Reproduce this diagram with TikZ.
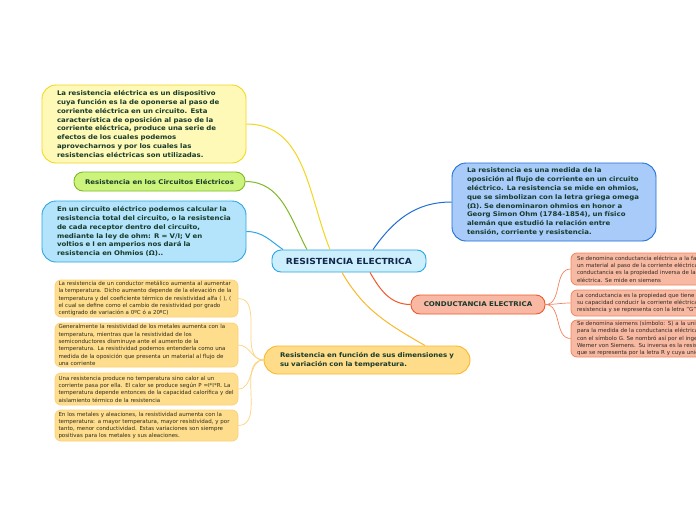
\documentclass[tikz,border=0pt]{standalone}
\usepackage{fontspec}
\setmainfont{DejaVu Sans}
\newfontfamily\widefont{DejaVu Sans}[FakeStretch=1.09]
\definecolor{txt}{HTML}{163A2A}
\definecolor{navy}{HTML}{12284A}
\definecolor{smalltxt}{HTML}{2E2A20}
\definecolor{yelfill}{HTML}{FFF9B8}
\definecolor{yelline}{HTML}{F2D620}
\definecolor{grnfill}{HTML}{CCF47C}
\definecolor{grnline}{HTML}{80B928}
\definecolor{lbfill}{HTML}{B4E4FB}
\definecolor{lbline}{HTML}{2AA6E6}
\definecolor{cfill}{HTML}{CDEEFC}
\definecolor{dbfill}{HTML}{A8CBFA}
\definecolor{dbline}{HTML}{1D6FD6}
\definecolor{rfill}{HTML}{F9B8A4}
\definecolor{rline}{HTML}{F0592A}
\definecolor{ofill}{HTML}{FEDC8A}
\definecolor{oline}{HTML}{FBB829}
\definecolor{sofill}{HTML}{FEDD8C}
\definecolor{soline}{HTML}{FCD27B}
\definecolor{srfill}{HTML}{F8B9A3}
\definecolor{srline}{HTML}{F3825E}
\begin{document}
\begin{tikzpicture}[x=1pt,y=-1pt,
  bignode/.style={draw, line width=0.9pt, rounded corners=14pt, text=txt, align=left,
    font=\widefont\fontsize{6.4}{8.8}\selectfont\bfseries, inner ysep=0pt, inner xsep=15pt, text width=174pt},
  pillnode/.style={draw, line width=0.9pt, rounded corners=9pt, text=txt, align=center,
    font=\widefont\fontsize{6.4}{8.8}\selectfont\bfseries, inner sep=0pt},
  smallL/.style={draw=soline, fill=sofill, line width=0.8pt, rounded corners=6pt, text=smalltxt,
    align=left, font=\fontsize{5.5}{7.3}\selectfont, inner ysep=0pt, inner xsep=3.5pt, text width=176pt},
  smallR/.style={draw=srline, fill=srfill, line width=0.8pt, rounded corners=6pt, text=smalltxt,
    align=left, font=\fontsize{5.5}{7.3}\selectfont, inner ysep=0pt, inner xsep=6pt, text width=200pt},
  link/.style={line width=1pt},
  thinlink/.style={line width=0.7pt}
]
\clip (0,0) rectangle (696,520);
\fill[white] (0,0) rectangle (696,520);

\node[pillnode, draw=lbline, fill=cfill, text=navy, minimum width=154pt, minimum height=22pt,
  font=\widefont\fontsize{8.4}{9}\selectfont\bfseries] (c) at (349,261) {RESISTENCIA ELECTRICA};

\node[bignode, draw=yelline, fill=yelfill, minimum height=78pt] (n1) at (144,124)
{La resistencia eléctrica es un dispositivo\\
cuya función es la de oponerse al paso de\\
corriente eléctrica en un circuito. Esta\\
característica de oposición al paso de la\\
corriente eléctrica, produce una serie de\\
efectos de los cuales podemos\\
aprovecharnos y por los cuales las\\
resistencias eléctricas son utilizadas.};

\node[pillnode, draw=grnline, fill=grnfill, minimum width=171pt, minimum height=19pt] (n2) at (159.5,181.5)
{Resistencia en los Circuitos Eléctricos};

\node[bignode, draw=lbline, fill=lbfill, minimum height=61pt] (n3) at (144,231.5)
{En un circuito eléctrico podemos calcular la\\
resistencia total del circuito, o la resistencia\\
de cada receptor dentro del circuito,\\
mediante la ley de ohm: R = V/I; V en\\
voltios e I en amperios nos dará la\\
resistencia en Ohmios (Ω)..};

\node[bignode, draw=dbline, fill=dbfill, minimum height=78pt] (n4) at (554,202)
{La resistencia es una medida de la\\
oposición al flujo de corriente en un circuito\\
eléctrico. La resistencia se mide en ohmios,\\
que se simbolizan con la letra griega omega\\
(Ω). Se denominaron ohmios en honor a\\
Georg Simon Ohm (1784-1854), un físico\\
alemán que estudió la relación entre\\
tensión, corriente y resistencia.};

\node[pillnode, draw=rline, fill=rfill, minimum width=134pt, minimum height=19pt,
  font=\widefont\fontsize{6.5}{8}\selectfont\bfseries] (n5) at (478,304.5) {CONDUCTANCIA ELECTRICA};

\node[bignode, draw=oline, fill=ofill, minimum height=28pt, inner xsep=16pt, text width=174pt,
  font=\widefont\fontsize{6.4}{9}\selectfont\bfseries] (n6) at (367,360)
{Resistencia en función de sus dimensiones y\\
su variación con la temperatura.};

\node[smallL, minimum height=37pt] (s1) at (146.5,298.5)
{La resistencia de un conductor metálico aumenta al aumentar\\
la temperatura. Dicho aumento depende de la elevación de la\\
\mbox{temperatura y del coeficiente térmico de resistividad alfa ( ), (}\\
el cual se define como el cambio de resistividad por grado\\
centígrado de variación a 0ºC ó a 20ºC)};

\node[smallL, minimum height=44pt] (s2) at (146.5,345)
{Generalmente la resistividad de los metales aumenta con la\\
temperatura, mientras que la resistividad de los\\
semiconductores disminuye ante el aumento de la\\
temperatura. La resistividad podemos entenderla como una\\
medida de la oposición que presenta un material al flujo de\\
una corriente};

\node[smallL, minimum height=32pt] (s3) at (146.5,389)
{Una resistencia produce no temperatura sino calor al un\\
\mbox{corriente pasa por ella. El calor se produce según P =I*I*R. La}\\
\mbox{temperatura depende entonces de la capacidad calorífica y del}\\
aislamiento térmico de la resistencia};

\node[smallL, minimum height=31pt] (s4) at (146.5,425.5)
{En los metales y aleaciones, la resistividad aumenta con la\\
\mbox{temperatura: a mayor temperatura, mayor resistividad, y por}\\
tanto, menor conductividad. Estas variaciones son siempre\\
positivas para los metales y sus aleaciones.};

\node[smallR, minimum height=32pt] (r1) at (677,269)
{Se denomina conductancia eléctrica a la facilidad que ofrece\\
un material al paso de la corriente eléctrica, es decir, que la\\
conductancia es la propiedad inversa de la resistencia\\
eléctrica. Se mide en siemens};

\node[smallR, minimum height=26pt] (r2) at (677,303)
{La conductancia es la propiedad que tiene un objeto o circuito\\
su capacidad conducir la corriente eléctrica. Es la inversa de la\\
resistencia y se representa con la letra "G".};

\node[smallR, minimum height=37pt] (r3) at (677,338.5)
{Se denomina siemens (símbolo: S) a la unidad derivada del SI\\
para la medida de la conductancia eléctrica, representada\\
con el símbolo G. Se nombró así por el ingeniero alemán\\
Werner von Siemens. Su inversa es la resistencia eléctrica,\\
que se representa por la letra R y cuya unidad es el ohmio};

% connectors
\draw[link, yelline] (n1.east) to[out=0, in=112] ([xshift=-19pt]c.north);
\draw[link, grnline] (n2.east) to[out=0, in=118] ([xshift=-42pt]c.north);
\draw[link, lbline] (n3.east) to[out=0, in=145] ([xshift=-66pt]c.north);
\draw[link, dbline] ([xshift=24pt]c.north) to[out=55, in=180] (n4.west);
\draw[link, rline] ([xshift=21pt]c.south) to[out=-60, in=180] (n5.west);
\draw[link, oline] ([xshift=-7pt]c.south) to[out=-60, in=150] ([xshift=58pt]n6.north);
\foreach \s in {s1,s2,s3,s4} \draw[thinlink, soline] (n6.west) to[out=180, in=0] (\s.east);
\foreach \r in {r1,r2,r3} \draw[thinlink, srline] (n5.east) to[out=0, in=180] (\r.west);
\end{tikzpicture}
\end{document}
